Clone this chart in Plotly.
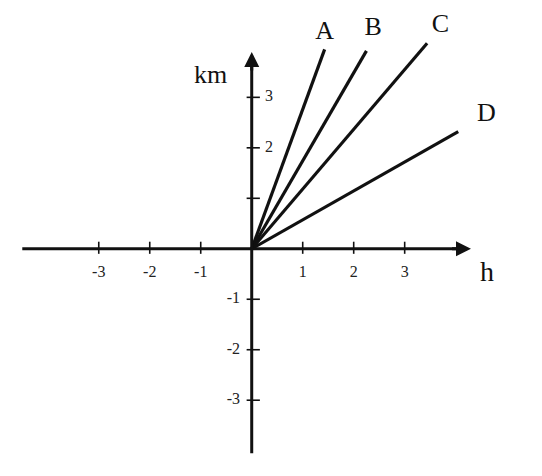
import plotly.graph_objects as go

# line labels and end points (h, km), all lines start at the origin
names = ["A", "B", "C", "D"]
end_h = [1.43, 2.25, 3.44, 4.05]
end_km = [3.95, 3.92, 4.07, 2.32]
label_h = [1.43, 2.38, 3.7, 4.6]
label_km = [4.28, 4.36, 4.42, 2.66]

# axis ticks
x_ticks = [-3, -2, -1, 1, 2, 3]
y_ticks = [-3, -2, -1, 1, 2, 3]
y_tick_labels = ["-3", "-2", "-1", "", "2", "3"]

serif = "Liberation Serif, Times New Roman, serif"
ink = "#111111"

fig = go.Figure()

# the four lines
for n, h, k in zip(names, end_h, end_km):
    fig.add_trace(go.Scatter(x=[0, h], y=[0, k], mode="lines",
                             line=dict(color=ink, width=3.2), hoverinfo="skip"))

# axes: x from left edge to arrow, y from bottom to arrow
fig.add_shape(type="line", x0=-4.5, y0=0, x1=4.2, y1=0, line=dict(color=ink, width=3))
fig.add_shape(type="line", x0=0, y0=-4.05, x1=0, y1=3.75, line=dict(color=ink, width=3))
fig.add_annotation(x=4.3, y=0, ax=3.9, ay=0, xref="x", yref="y", axref="x", ayref="y",
                   showarrow=True, arrowhead=2, arrowsize=1, arrowwidth=3, arrowcolor=ink, text="")
fig.add_annotation(x=0, y=3.9, ax=0, ay=3.5, xref="x", yref="y", axref="x", ayref="y",
                   showarrow=True, arrowhead=2, arrowsize=1, arrowwidth=3, arrowcolor=ink, text="")

# tick marks
for t in x_ticks:
    fig.add_shape(type="line", x0=t, y0=-0.1, x1=t, y1=0.14, line=dict(color=ink, width=1.6))
for t in y_ticks:
    fig.add_shape(type="line", x0=-0.1, y0=t, x1=0.16, y1=t, line=dict(color=ink, width=1.6))

# tick labels
fig.add_trace(go.Scatter(x=x_ticks, y=[-0.47] * len(x_ticks), mode="text",
                         text=[str(t) for t in x_ticks],
                         textfont=dict(family=serif, size=16, color="#222222"), hoverinfo="skip"))
fig.add_trace(go.Scatter(x=[0.34 if t > 0 else -0.36 for t in y_ticks], y=y_ticks, mode="text",
                         text=y_tick_labels,
                         textfont=dict(family=serif, size=16, color="#222222"), hoverinfo="skip"))

# line names
fig.add_trace(go.Scatter(x=label_h, y=label_km, mode="text", text=names,
                         textfont=dict(family=serif, size=26, color=ink), hoverinfo="skip"))

# axis names
fig.add_annotation(x=-0.8, y=3.45, text="km", showarrow=False,
                   font=dict(family=serif, size=26, color=ink))
fig.add_annotation(x=4.62, y=-0.45, text="h", showarrow=False,
                   font=dict(family=serif, size=28, color=ink))

# ranges chosen so the origin lands where it sits in the reference (page has an 8px body margin)
fig.update_xaxes(range=[-4.78, 5.85], visible=False)
fig.update_yaxes(range=[-4.66, 4.77], visible=False)
fig.update_layout(width=542, height=476, margin=dict(l=0, r=0, t=0, b=0),
                  plot_bgcolor="white", paper_bgcolor="white", showlegend=False)

fig.write_html("out.html")
